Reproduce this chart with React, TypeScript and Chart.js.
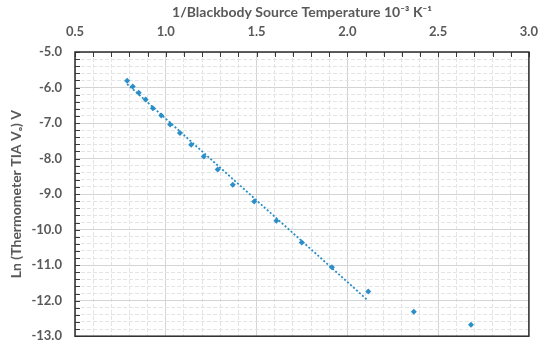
import React, { useEffect, useRef } from "react";
import { Chart, registerables } from "chart.js";

Chart.register(...registerables);

const invTemp = [0.787, 0.818, 0.851, 0.889, 0.929, 0.975, 1.024, 1.078, 1.14, 1.209, 1.286, 1.369, 1.487, 1.609, 1.749, 1.915, 2.115, 2.366, 2.681];
const lnV = [-5.81, -5.97, -6.15, -6.34, -6.58, -6.79, -7.04, -7.28, -7.61, -7.94, -8.31, -8.74, -9.21, -9.75, -10.36, -11.06, -11.74, -12.31, -12.68];
const trendX = [0.787, 2.106];
const trendY = [-5.9, -11.96];

const xTitle = "1/Blackbody Source Temperature 10\u207B\u00B3 K\u207B\u00B9";
const yTitle = "Ln (Thermometer TIA V\u2092) V";

const BLUE = "#2a8fc9";
const TEXT = "#595959";
const FONT = "Lato, 'Liberation Sans', sans-serif";

const isMajor = (v: number, step: number) => Math.abs(v / step - Math.round(v / step)) < 1e-6;

const frame = {
  id: "frame",
  afterDraw(chart: any) {
    const { ctx, chartArea: a, scales } = chart;
    const xs = scales.x;
    const ys = scales.y;
    ctx.save();
    ctx.strokeStyle = "#3a3a3a";
    ctx.lineWidth = 1;
    for (const t of xs.ticks) {
      const px = Math.round(xs.getPixelForValue(t.value)) + 0.5;
      ctx.beginPath();
      ctx.moveTo(px, a.top);
      ctx.lineTo(px, a.top + 5);
      ctx.stroke();
    }
    for (const t of ys.ticks) {
      const py = Math.round(ys.getPixelForValue(t.value)) + 0.5;
      ctx.beginPath();
      ctx.moveTo(a.left, py);
      ctx.lineTo(a.left + 5, py);
      ctx.stroke();
    }
    ctx.lineWidth = 1.5;
    ctx.strokeStyle = "#2b2b2b";
    ctx.strokeRect(a.left, a.top, a.right - a.left, a.bottom - a.top);
    ctx.restore();
  },
};

export default function App() {
  const ref = useRef<HTMLCanvasElement | null>(null);
  useEffect(() => {
    document.body.style.margin = "0";
    const pts = invTemp.map((x, i) => ({ x, y: lnV[i] }));
    const trend = trendX.map((x, i) => ({ x, y: trendY[i] }));
    const chart = new Chart(ref.current!, {
      type: "scatter",
      data: {
        datasets: [
          {
            data: trend,
            showLine: true,
            borderColor: BLUE,
            borderWidth: 1.8,
            borderDash: [2, 2],
            pointRadius: 0,
            order: 2,
          },
          {
            data: pts,
            backgroundColor: BLUE,
            borderColor: BLUE,
            pointStyle: "rectRot",
            pointRadius: 3,
            borderWidth: 0,
            order: 1,
          },
        ],
      },
      options: {
        animation: false,
        responsive: false,
        maintainAspectRatio: false,
        layout: { padding: { left: 0, right: 17, top: 0, bottom: 14 } },
        plugins: { legend: { display: false }, tooltip: { enabled: false } },
        scales: {
          x: {
            type: "linear",
            position: "top",
            min: 0.5,
            max: 3.0,
            afterFit: (s: any) => { s.height = 52; },
            ticks: {
              stepSize: 0.1,
              autoSkip: false,
              maxRotation: 0,
              padding: 12,
              color: TEXT,
              font: { family: FONT, size: 13, weight: "bold" },
              callback: (v: any) => (isMajor(Number(v), 0.5) ? Number(v).toFixed(1) : ""),
            },
            grid: {
              drawTicks: false,
              color: (c: any) => (c.tick && isMajor(c.tick.value, 0.5) ? "#d4d4d4" : "#e4e4e4"),
              lineWidth: 1,
            },
            border: {
              display: false,
              dash: (c: any) => (c.tick && isMajor(c.tick.value, 0.5) ? [] : [4, 2]),
            },
            title: {
              display: true,
              text: xTitle,
              color: TEXT,
              font: { family: FONT, size: 14, weight: "bold" },
              padding: { top: 4, bottom: 0 },
            },
          },
          y: {
            type: "linear",
            min: -13,
            max: -5,
            afterFit: (s: any) => { s.width = 75; },
            ticks: {
              stepSize: 0.2,
              autoSkip: false,
              padding: 13,
              color: TEXT,
              font: { family: FONT, size: 13, weight: "bold" },
              callback: (v: any) => (isMajor(Number(v), 1) ? Number(v).toFixed(1) : ""),
            },
            grid: {
              drawTicks: false,
              color: (c: any) => (c.tick && isMajor(c.tick.value, 1) ? "#d4d4d4" : "#e4e4e4"),
              lineWidth: 1,
            },
            border: {
              display: false,
              dash: (c: any) => (c.tick && isMajor(c.tick.value, 1) ? [] : [4, 2]),
            },
            title: {
              display: true,
              text: yTitle,
              color: TEXT,
              font: { family: FONT, size: 14, weight: "bold" },
              padding: { top: 8, bottom: 0 },
            },
          },
        },
      },
      plugins: [frame],
    });
    return () => chart.destroy();
  }, []);
  return (
    <div style={{ position: "absolute", left: 0, top: 0, width: 550, height: 357, background: "#fff" }}>
      <canvas ref={ref} width={550} height={357} style={{ display: "block" }} />
    </div>
  );
}
